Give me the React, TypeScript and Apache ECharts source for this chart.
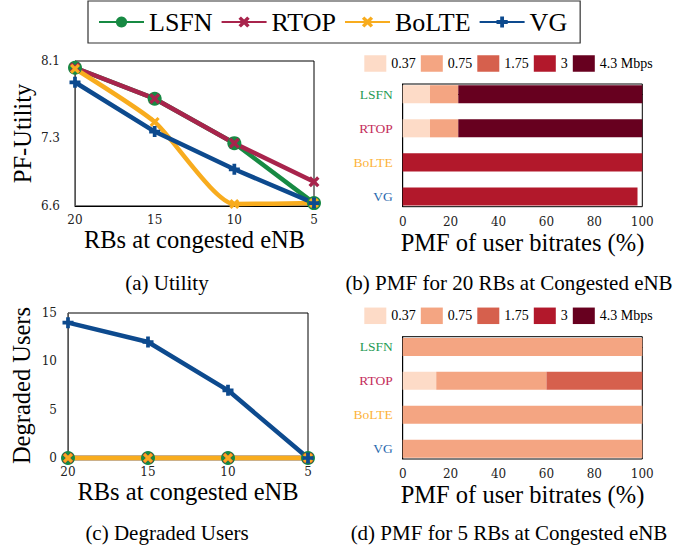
import React, { useEffect, useRef } from "react";
import * as echarts from "echarts";

// ---------- data ----------
const rbCategories = ["20", "15", "10", "5"];
const methods = ["LSFN", "RTOP", "BoLTE", "VG"];

const utilLSFN = [8.03, 7.71, 7.25, 6.63];
const utilRTOP = [8.03, 7.71, 7.25, 6.85];
const utilBoLTE = [8.02, 7.47, 6.62, 6.63];
const utilVG = [7.88, 7.37, 6.98, 6.63];
const utilTicks = [6.6, 7.3, 8.1];

const degLSFN = [0, 0, 0, 0];
const degRTOP = [0, 0, 0, 0];
const degBoLTE = [0, 0, 0, 0];
const degVG = [14, 12, 7, 0];
const degTicks = [0, 5, 10, 15];

const bitrateLevels = ["0.37", "0.75", "1.75", "3", "4.3 Mbps"];
// PMF (%) per bitrate level, values for [LSFN, RTOP, BoLTE, VG]
const pmf20_037 = [11.4, 11.4, 0, 0];
const pmf20_075 = [11.8, 11.8, 0, 0];
const pmf20_175 = [0, 0, 0, 0];
const pmf20_3 = [0, 0, 100, 98];
const pmf20_43 = [76.8, 76.8, 0, 0];

const pmf5_037 = [0, 14, 0, 0];
const pmf5_075 = [100, 46, 100, 100];
const pmf5_175 = [0, 40, 0, 0];
const pmf5_3 = [0, 0, 0, 0];
const pmf5_43 = [0, 0, 0, 0];

// ---------- styles ----------
const methodColors = ["#178a43", "#a8244c", "#f8ac1e", "#0d4a8e"];
const methodLabelColors = ["#1f9a55", "#c42e5b", "#fdb33b", "#2a69ad"];
const levelColors = ["#fddbc7", "#f4a582", "#d6604d", "#b2182b", "#67001f"];
const SERIF = "Liberation Serif";
const TICKF = "DejaVu Serif";

const plusPath = "path://M3.3,0H6.7V3.3H10V6.7H6.7V10H3.3V6.7H0V3.3H3.3Z";
const xPath =
  "path://M2.2,0L5,2.8L7.8,0L10,2.2L7.2,5L10,7.8L7.8,10L5,7.2L2.2,10L0,7.8L2.8,5L0,2.2Z";

const symbols = ["circle", xPath, xPath, plusPath];
const symbolSizes = [14, 11, 10, 11];

function lineSeries(name: string, idx: number, data: number[], axis: number, smooth: boolean) {
  return {
    type: "line",
    name,
    xAxisIndex: axis,
    yAxisIndex: axis,
    data,
    smooth: smooth ? 0.2 : false,
    symbol: symbols[idx],
    symbolSize: symbolSizes[idx],
    showAllSymbol: true,
    lineStyle: { width: 4.5, color: methodColors[idx] },
    itemStyle: { color: methodColors[idx] },
    clip: false,
  };
}

function buildSegments(levels: number[][], lvl: number) {
  return methods.map((_, m) => {
    let start = 0;
    for (let k = 0; k < lvl; k++) start += levels[k][m];
    return [start, start + levels[lvl][m], m];
  });
}

function barSeries(levels: number[][], lvl: number, axis: number) {
  const color = levelColors[lvl];
  return {
    type: "custom",
    name: bitrateLevels[lvl],
    xAxisIndex: axis,
    yAxisIndex: axis,
    itemStyle: { color },
    data: buildSegments(levels, lvl),
    encode: { x: [0, 1], y: 2 },
    renderItem: (params: any, api: any) => {
      const s = api.value(0);
      const e = api.value(1);
      const c = api.value(2);
      if (e - s <= 0) return null;
      const p0 = api.coord([s, c]);
      const p1 = api.coord([e, c]);
      const h = api.size([0, 0.53])[1];
      return {
        type: "rect",
        shape: { x: p0[0], y: p0[1] - h / 2, width: p1[0] - p0[0], height: h },
        style: { fill: color },
      };
    },
  };
}

export default function App() {
  const ref = useRef<HTMLDivElement>(null);

  useEffect(() => {
    if (!ref.current) return;
    const chart = echarts.init(ref.current, undefined, { renderer: "svg" });

    const pmf20 = [pmf20_037, pmf20_075, pmf20_175, pmf20_3, pmf20_43];
    const pmf5 = [pmf5_037, pmf5_075, pmf5_175, pmf5_3, pmf5_43];

    const tickLabel = { fontFamily: TICKF, fontSize: 12, color: "#222" };
    const nameStyle = { fontFamily: SERIF, fontSize: 24.5, color: "#000" };

    const catX = (gridIndex: number) => ({
      type: "category",
      gridIndex,
      data: rbCategories,
      boundaryGap: false,
      axisLine: { lineStyle: { color: "#000", width: 1 } },
      axisTick: { show: false },
      axisLabel: { ...tickLabel, margin: 8 },
      name: "RBs at congested eNB",
      nameLocation: "middle",
      nameGap: 21,
      nameTextStyle: nameStyle,
    });

    const pmfX = (gridIndex: number) => ({
      type: "value",
      gridIndex,
      min: 0,
      max: 100,
      interval: 20,
      splitLine: { show: false },
      axisLine: { show: true, lineStyle: { color: "#000", width: 1 } },
      axisTick: { show: false },
      axisLabel: { ...tickLabel, margin: 9 },
      name: "PMF of user bitrates (%)",
      nameLocation: "middle",
      nameGap: 23,
      nameTextStyle: nameStyle,
    });

    const rich: any = {};
    methods.forEach((m, i) => {
      rich["m" + i] = { color: methodLabelColors[i], fontFamily: SERIF, fontSize: 13.5 };
    });

    const methodY = (gridIndex: number) => ({
      type: "value",
      gridIndex,
      inverse: true,
      min: -0.3,
      max: 3.3,
      splitLine: { show: false },
      axisLine: { show: true, lineStyle: { color: "#000", width: 1 } },
      axisTick: { show: false },
      axisLabel: {
        customValues: [0, 1, 2, 3],
        margin: 10,
        formatter: (v: number) => {
          const i = Math.round(v);
          return "{m" + i + "|" + methods[i] + "}";
        },
        rich,
      },
    });

    const gridFrame = { show: true, borderColor: "#000", borderWidth: 1, containLabel: false };

    const levelLegend = (top: number) => ({
      left: 364.3,
      top,
      orient: "horizontal",
      itemWidth: 22,
      itemHeight: 16.5,
      itemGap: 5,
      padding: 0,
      selectedMode: false,
      data: bitrateLevels.map((n) => ({ name: n, icon: "rect" })),
      textStyle: { fontFamily: SERIF, fontSize: 14, color: "#000", lineHeight: 17 },
    });

    const option: any = {
      animation: false,
      backgroundColor: "#fff",
      legend: [
        {
          left: 88,
          top: 1,
          orient: "horizontal",
          itemWidth: 45,
          itemHeight: 14,
          itemGap: 8,
          padding: [7, 13, 7, 10],
          borderColor: "#333",
          borderWidth: 1.2,
          selectedMode: false,
          data: methods,
          textStyle: { fontFamily: SERIF, fontSize: 26, color: "#000", lineHeight: 28 },
        },
        levelLegend(55),
        levelLegend(307.3),
      ],
      grid: [
        { left: 75, top: 61, width: 239, height: 145, ...gridFrame },
        { left: 402.7, top: 84, width: 239.6, height: 122.7, ...gridFrame },
        { left: 68, top: 313, width: 240, height: 145, ...gridFrame },
        { left: 402.7, top: 336.7, width: 239.6, height: 122.3, ...gridFrame },
      ],
      xAxis: [catX(0), pmfX(1), catX(2), pmfX(3)],
      yAxis: [
        {
          type: "value",
          gridIndex: 0,
          min: 6.6,
          max: 8.1,
          splitLine: { show: false },
          axisLine: { show: true, lineStyle: { color: "#555", width: 1 } },
          axisTick: { show: false },
          axisLabel: {
            ...tickLabel,
            margin: 15,
            customValues: utilTicks,
            formatter: (v: number) => v.toFixed(1),
          },
          name: "PF-Utility",
          nameLocation: "middle",
          nameGap: 40,
          nameTextStyle: nameStyle,
        },
        methodY(1),
        {
          type: "value",
          gridIndex: 2,
          min: 0,
          max: 15,
          interval: 5,
          splitLine: { show: false },
          axisLine: { show: true, lineStyle: { color: "#555", width: 1 } },
          axisTick: { show: false },
          axisLabel: { ...tickLabel, margin: 11, customValues: degTicks },
          name: "Degraded Users",
          nameLocation: "middle",
          nameGap: 34,
          nameTextStyle: nameStyle,
        },
        methodY(3),
      ],
      series: [
        lineSeries("LSFN", 0, utilLSFN, 0, false),
        lineSeries("RTOP", 1, utilRTOP, 0, false),
        lineSeries("BoLTE", 2, utilBoLTE, 0, true),
        lineSeries("VG", 3, utilVG, 0, false),
        lineSeries("LSFN", 0, degLSFN, 2, false),
        lineSeries("RTOP", 1, degRTOP, 2, false),
        lineSeries("BoLTE", 2, degBoLTE, 2, false),
        lineSeries("VG", 3, degVG, 2, false),
        ...bitrateLevels.map((_, l) => barSeries(pmf20, l, 1)),
        ...bitrateLevels.map((_, l) => barSeries(pmf5, l, 3)),
      ],
      graphic: [
        { type: "text", x: 167, y: 283, style: { text: "(a) Utility", align: "center", verticalAlign: "middle", fontFamily: SERIF, fontSize: 21, fill: "#000" } },
        { type: "text", x: 509, y: 283, style: { text: "(b) PMF for 20 RBs at Congested eNB", align: "center", verticalAlign: "middle", fontFamily: SERIF, fontSize: 21, fill: "#000" } },
        { type: "text", x: 167, y: 533, style: { text: "(c) Degraded Users", align: "center", verticalAlign: "middle", fontFamily: SERIF, fontSize: 21, fill: "#000" } },
        { type: "text", x: 509, y: 533, style: { text: "(d) PMF for 5 RBs at Congested eNB", align: "center", verticalAlign: "middle", fontFamily: SERIF, fontSize: 21, fill: "#000" } },
      ],
    };

    chart.setOption(option);
    return () => chart.dispose();
  }, []);

  return (
    <div
      ref={ref}
      style={{ position: "fixed", left: 0, top: 0, width: 691, height: 550, background: "#fff" }}
    />
  );
}
